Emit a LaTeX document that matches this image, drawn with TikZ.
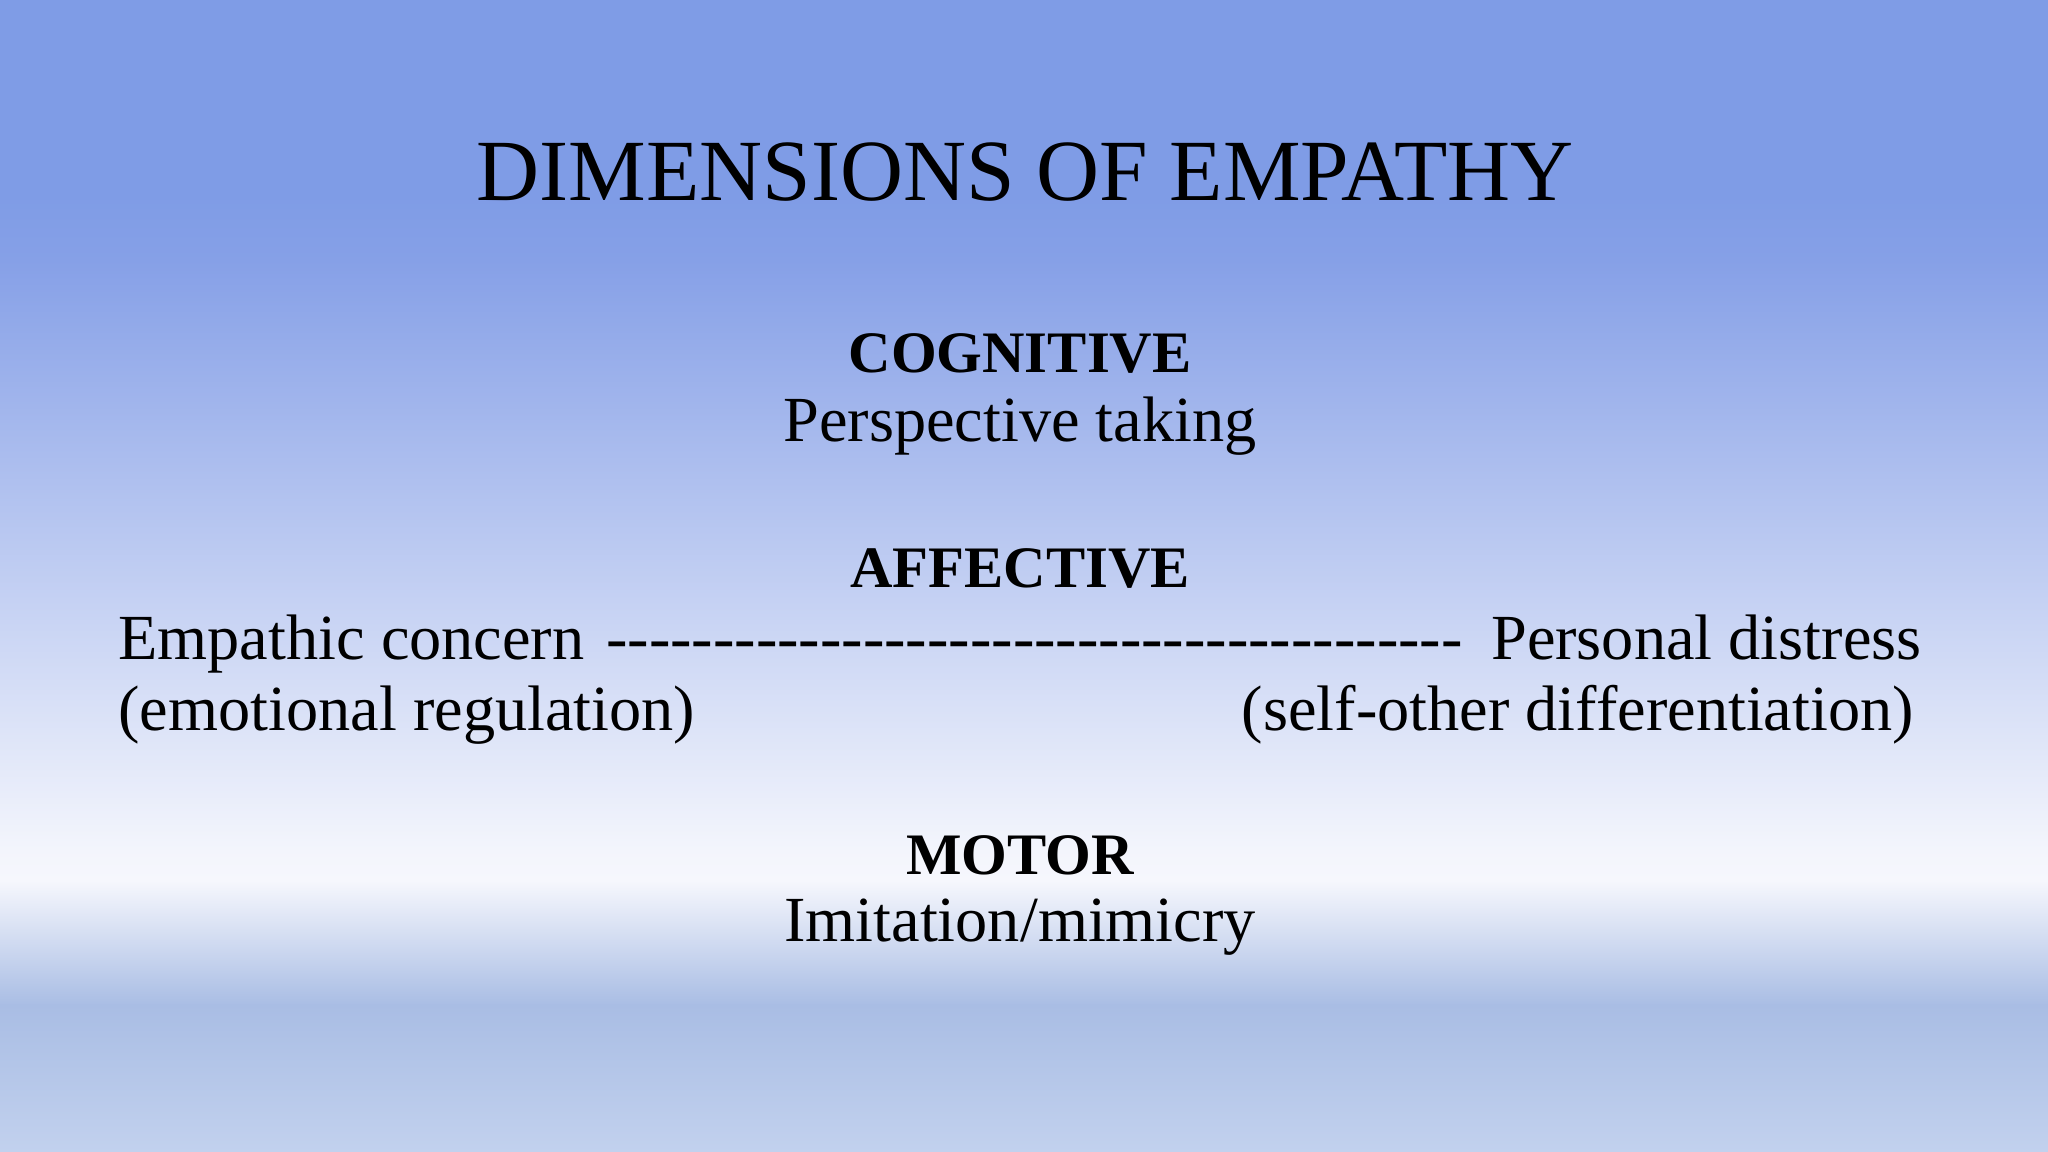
\documentclass[tikz,border=0pt]{standalone}
\usepackage{fontspec}
\setmainfont{Liberation Serif}
\definecolor{c0}{HTML}{7F9CE6}
\definecolor{c1}{HTML}{86A0E7}
\definecolor{c2}{HTML}{F3F5FC}
\definecolor{c3}{HTML}{F6F7FD}
\definecolor{c4}{HTML}{A9BDE4}
\definecolor{c5}{HTML}{C2D1EE}
\newcommand{\hyphenrun}{\foreach \i in {1,...,40}{-{}}}
\begin{document}
\begin{tikzpicture}[x=0.01cm,y=-0.01cm,
  head/.style={font=\fontsize{12.8}{15}\selectfont\bfseries,anchor=center,inner sep=0pt},
  body/.style={font=\fontsize{14}{16}\selectfont,anchor=center,inner sep=0pt}]
\useasboundingbox (0,0) rectangle (1568,882);
\fill[c0] (0,0) rectangle (1568,150);
\shade[top color=c0,bottom color=c1] (0,149) rectangle (1568,200);
\shade[top color=c1,bottom color=c2] (0,199) rectangle (1568,650);
\shade[top color=c2,bottom color=c3] (0,649) rectangle (1568,675);
\shade[top color=c3,bottom color=c4] (0,674) rectangle (1568,770);
\shade[top color=c4,bottom color=c5] (0,769) rectangle (1568,882);
\node[body,font=\fontsize{19}{22}\selectfont] (title) at (785,132) {DIMENSIONS OF EMPATHY};
\node[head] (cog) at (781,271) {COGNITIVE};
\node[body] (pt) at (781,326) {Perspective taking};
\node[head] (aff) at (781,435) {AFFECTIVE};
\node[body,anchor=base west] (ec) at (90,505) {Empathic concern};
\node[body,anchor=base east] (pd) at (1472,505) {Personal distress};
\node[body,anchor=base] (dash) at (792,505) {\hyphenrun};
\node[body,anchor=base west] (er) at (90,559) {(emotional regulation)};
\node[body,anchor=base east] (so) at (1466,559) {(self-other differentiation)};
\node[head] (mot) at (781,655) {MOTOR};
\node[body] (im) at (781,710) {Imitation/mimicry};
\end{tikzpicture}
\end{document}
